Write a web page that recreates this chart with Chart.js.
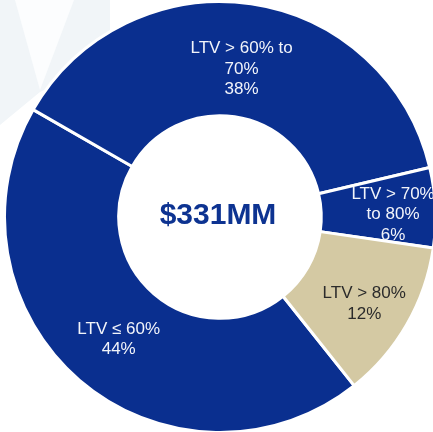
<!DOCTYPE html>
<html>
<head>
<meta charset="utf-8">
<script src="https://cdn.jsdelivr.net/npm/chart.js@4.4.1/dist/chart.umd.min.js"></script>
<style>
  html, body { margin: 0; padding: 0; background: #fff; overflow: hidden; }
  .wrap { position: relative; width: 440px; height: 440px; }
</style>
</head>
<body>
<div class="wrap"><canvas id="ltvChart"></canvas></div>
<script>
const categories = ['LTV ≤ 60%', 'LTV > 60% to 70%', 'LTV > 70% to 80%', 'LTV > 80%'];
const shares = [44, 38, 6, 12];
const labelLines = [
    ['LTV ≤ 60%', '44%'],
    ['LTV > 60% to', '70%', '38%'],
    ['LTV > 70%', 'to 80%', '6%'],
    ['LTV > 80%', '12%']
];
const sliceColors = ['#0a2f8f', '#0a2f8f', '#0a2f8f', '#d4c9a3'];
const labelColors = ['#f2f4fa', '#f2f4fa', '#f2f4fa', '#2b2b2b'];
const totalLabel = '$331MM';

// faint backdrop shapes, top-left corner
const backdrop = {
    id: 'backdrop',
    beforeDraw(chart) {
        const ctx = chart.ctx;
        ctx.save();
        ctx.fillStyle = '#f1f5f8';
        ctx.beginPath();
        ctx.moveTo(0, 0); ctx.lineTo(110, 0); ctx.lineTo(110, 60);
        ctx.lineTo(40, 92); ctx.lineTo(0, 125); ctx.closePath();
        ctx.fill();
        ctx.fillStyle = '#fcfdfe';
        ctx.beginPath();
        ctx.moveTo(15, 0); ctx.lineTo(74, 0); ctx.lineTo(40, 90); ctx.closePath();
        ctx.fill();
        ctx.restore();
    }
};

const sliceLabels = {
    id: 'sliceLabels',
    afterDatasetsDraw(chart, args, opts) {
        const ctx = chart.ctx;
        const meta = chart.getDatasetMeta(0);
        ctx.save();
        ctx.textAlign = 'center';
        ctx.textBaseline = 'middle';
        ctx.font = '17px "Liberation Sans", Arial, sans-serif';
        meta.data.forEach((arc, i) => {
            const p = arc.getProps(['x', 'y', 'startAngle', 'endAngle', 'innerRadius', 'outerRadius'], true);
            const mid = (p.startAngle + p.endAngle) / 2;
            const r = p.innerRadius + (p.outerRadius - p.innerRadius) * opts.radial[i];
            const cx = p.x + Math.cos(mid) * r + opts.shiftX[i];
            const cy = p.y + Math.sin(mid) * r + opts.shiftY[i];
            const lines = labelLines[i];
            const lh = 20.5;
            ctx.fillStyle = labelColors[i];
            lines.forEach((t, k) => {
                ctx.fillText(t, cx, cy + (k - (lines.length - 1) / 2) * lh);
            });
        });
        // centre total
        const a = meta.data[0];
        ctx.fillStyle = '#0d3391';
        ctx.font = 'bold 30px "Liberation Sans", Arial, sans-serif';
        ctx.fillText(totalLabel, a.x - 2, a.y - 1);
        ctx.restore();
    }
};

new Chart(document.getElementById('ltvChart'), {
    type: 'doughnut',
    data: {
        labels: categories,
        datasets: [{
            data: shares,
            backgroundColor: sliceColors,
            borderColor: '#ffffff',
            borderWidth: 3,
            hoverOffset: 0
        }]
    },
    options: {
        responsive: true,
        maintainAspectRatio: false,
        animation: false,
        rotation: 141.5,
        cutout: '47%',
        layout: { padding: { left: 3, right: 3, top: 0, bottom: 6 } },
        plugins: {
            legend: { display: false },
            tooltip: { enabled: false },
            sliceLabels: {
                radial: [0.5, 0.42, 0.63, 0.57],
                shiftX: [2, 0, 0, 0],
                shiftY: [2, 0, 5, 4]
            }
        }
    },
    plugins: [backdrop, sliceLabels]
});
</script>
</body>
</html>
